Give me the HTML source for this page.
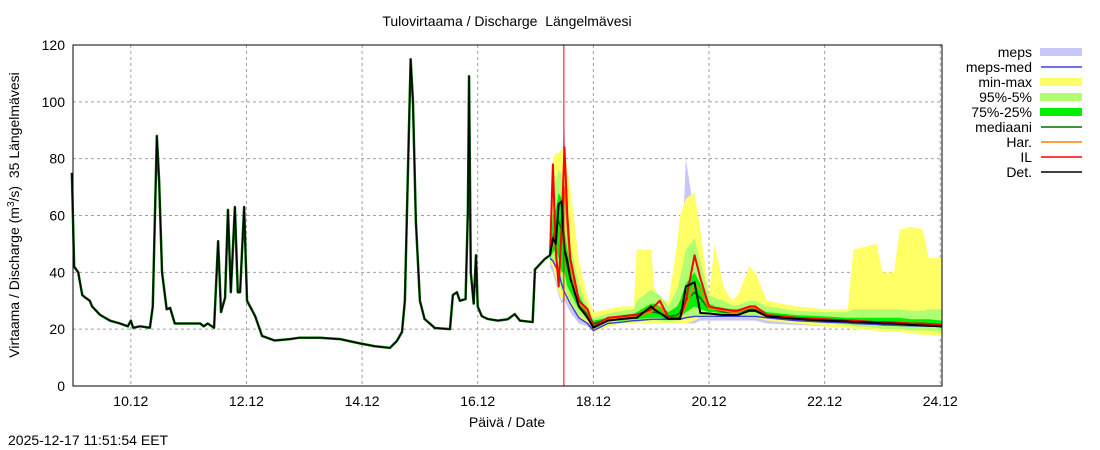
<!DOCTYPE html>
<html><head><meta charset="utf-8"><style>
body{margin:0;background:#fff;}
svg{display:block;font-family:"Liberation Sans",sans-serif;}
text{white-space:pre;}
</style></head><body>
<svg id="chart" width="1100" height="450" viewBox="0 0 1100 450">
<text x="507" y="26" font-size="14" text-anchor="middle" xml:space="preserve">Tulovirtaama / Discharge  Längelmävesi</text>
<text x="507" y="427" font-size="14" text-anchor="middle">Päivä / Date</text>
<text transform="translate(19,215) rotate(-90)" font-size="14" text-anchor="middle" xml:space="preserve">Virtaama / Discharge (m<tspan dy="-5" font-size="10">3</tspan><tspan dy="5">/s)  35 Längelmävesi</tspan></text>
<text x="8" y="445" font-size="14">2025-12-17 11:51:54 EET</text>
<g id="grid"></g><g id="bands"></g><g id="lines"></g><g id="axes"></g><g id="legend"></g>
</svg>
<script>
const yTicks=[0,20,40,60,80,100,120];
const xTickDays=[10,12,14,16,18,20,22,24];
const xTickLabels=["10.12","12.12","14.12","16.12","18.12","20.12","22.12","24.12"];
const obsDays=[8.98,9.02,9.09,9.16,9.22,9.29,9.33,9.47,9.64,9.81,9.95,10.0,10.04,10.16,10.33,10.38,10.45,10.49,10.54,10.62,10.68,10.76,10.94,11.2,11.26,11.33,11.44,11.51,11.56,11.63,11.68,11.73,11.8,11.85,11.89,11.96,12.01,12.15,12.27,12.49,12.75,12.92,13.27,13.62,13.96,14.22,14.48,14.6,14.69,14.74,14.81,14.84,14.88,14.93,15.0,15.08,15.26,15.52,15.57,15.64,15.69,15.79,15.83,15.85,15.88,15.93,15.97,16.0,16.07,16.17,16.35,16.52,16.64,16.73,16.95,16.99,17.16,17.25];
const obsVals=[75,42,40,32,31,30,28,25,23,22,21,23,20.5,21,20.5,28,88,72,40,27,27.5,22,22,22,21,22,20.5,51,26,31,62,33,63,33,33,63,30,24.6,17.6,16,16.5,17,17,16.5,15,14,13.4,15.8,19,30,90,115,100,58,30,23.6,20.4,20,32,33,30,30.6,62,109,40,29,46,28,24.6,23.6,23,23.5,25.3,23,22.5,41,44.7,46];
const fcDays=[17.25,17.3,17.35,17.4,17.45,17.5,17.55,17.6,17.75,17.9,18.0,18.25,18.5,18.7,18.75,19.0,19.05,19.15,19.3,19.45,19.5,19.6,19.75,19.85,20.0,20.1,20.25,20.4,20.5,20.7,20.8,21.0,21.5,22.0,22.4,22.5,22.9,23.0,23.2,23.3,23.5,23.7,23.8,24.03];
const fcMin=[43,42,38,33,30,32,30,28,24,22,19,21,22,22,22,22,22,22,22,22,22,22,23,24,24,24,24,24,24,24,24,23,22,21,20.5,20,19.5,19,19,19,18.5,18,18,17.5];
const fcP5=[44,44,42,38,33,35,32,30,25,23,20,22,22.5,23,23,23,23,23,22.5,23,23,24,25,25,25,25,25,24.5,24.5,25,25,24,23,22,21.5,21,20.5,20,20,20,19.5,19.5,19.5,19];
const fcP25=[45,47,48,45,40,40,35,33,27,24,21,23,23,23.5,23.5,24,24,24,23.5,24,24,26,28,27,26,26,25.5,25,25,26,26,24.5,23.5,23,22.5,22,21.5,21.5,21.5,21.5,21,21,21,20.5];
const fcMed=[46,52,55,58,55,48,42,38,29,25,22,23.5,24,24.5,24.5,26,26,25.5,24.5,25,26,30,33,31,27,27,26,26,26,27,27,25,24,23.5,23,23,22.5,22.5,22.3,22.2,22,22,21.8,21.5];
const fcP75=[47,60,62,68,66,55,48,43,32,26,23,24,25,25.5,26,29,29,28,26,28,30,36,40,36,29,28,27.5,27,27,28,28,26,25,24.5,24,24,24,24,24,24,23.5,23.5,23.5,23];
const fcP95=[50,70,72,76,75,66,58,50,36,28,24,25.5,26.5,27,30,34,33,32,28,34,38,48,52,44,32,31,30,28.5,28.5,30,30,28,26.5,26,26,27,27,27,27,27,26.5,26.5,27,27];
const fcMax=[55,80,82,82,83,84,76,70,44,31,26,27,28,28,48,48,35,30,30,50,60,66,68,55,32,50,35,30,32,42,40,30,28,27,27,48,50,40,40,55,56,55,45,45];
const mepsMin=[42,40,36,32,29,30,28,26,22,21,19,21,22,22,22,22,22,22,22,22,22,22,22,23,23,23,23,23,23,23,23,22,21.5,21,20.7,20.5,20,20,20,19.8,19.5,19.3,19.2,19];
const mepsMax=[50,62,70,75,80,92,65,50,34,27,23,25,26,27,27,30,29,28,26,30,32,80,60,40,30,29,28,27,27,28,28,26,25,24.5,24,24,23.5,23.5,23.3,23.2,23,22.8,22.7,22.5];
const mepsMed=[45,44,42,40,36,33,31,29,24,22,19.5,22,22.5,23,23,23.5,23.5,23.5,23.5,23.5,23.5,24,24.5,24.5,24.5,24.5,24.5,24.5,24.5,24.5,24.5,24,23,22.5,22.2,22,21.7,21.5,21.4,21.3,21.2,21.1,21.1,21];
const harVals=[46,75,45,40,50,70,55,42,29,26,21,23.5,24,24.5,24.5,26,27,28,24,24,24,28,36,34,27,27,26.5,26,26,27.5,27.5,25,24,23.5,23,23,22.5,22.5,22.3,22.2,22,22,21.8,21.5];
const ilVals=[46,78,48,35,55,84,60,45,30,27,21,24,24.5,25,25,27,28,30,24,24,24,30,46,38,28,27.5,27,26.5,26.5,28,28,25,24,23.5,23,23,22.5,22.5,22.3,22.2,22,22,21.8,21.5];
const detVals=[46,52,50,64,65,48,44,38,28,24,20.5,23,23.6,24,24,28,27,25.7,23.6,23.6,23.6,35,36.5,25.7,25.5,25.3,25,25,25,26.5,26.5,24.5,23.6,23,22.7,22.5,22.2,22,22,21.8,21.5,21.3,21.2,21];
const nowDay=17.49;

const X0=73,X1=942,Y0=386,Y1=45,DMIN=9.0,DMAX=24.03;
const xs=d=>X0+(d-DMIN)/(DMAX-DMIN)*(X1-X0);
const ys=v=>Y0-v/120*(Y0-Y1);
const NS="http://www.w3.org/2000/svg";
function mk(tag,attrs,parent){const e=document.createElementNS(NS,tag);for(const k in attrs)e.setAttribute(k,attrs[k]);document.getElementById(parent).appendChild(e);return e;}
const grid='grid';
yTicks.forEach(v=>{
 if(v>0&&v<120){const g=mk('line',{x1:X0,x2:X1,y1:ys(v),y2:ys(v),stroke:'#a0a0a0','stroke-dasharray':'3,3'},grid);
 
 }
 const t=mk('text',{x:X0-8,y:ys(v)+5,'font-size':14,'text-anchor':'end'},'axes');t.textContent=v;
 
 
});
xTickDays.forEach((d,i)=>{
 const g=mk('line',{x1:xs(d),x2:xs(d),y1:Y1,y2:Y0,stroke:'#a0a0a0','stroke-dasharray':'3,3'},grid);
 
 
 const t=mk('text',{x:xs(d),y:Y0+20,'font-size':14,'text-anchor':'middle'},'axes');t.textContent=xTickLabels[i];
 
 
});
const frame=mk('rect',{x:X0,y:Y1,width:X1-X0,height:Y0-Y1,fill:'none',stroke:'#000'},'axes');


function band(lo,hi,color,name){
 let p=fcDays.map((d,i)=>xs(d)+','+ys(hi[i])).join(' ')+' '+fcDays.map((d,i)=>xs(d)+','+ys(lo[i])).reverse().join(' ');
 const e=mk('polygon',{points:p,fill:color},'bands');
 
 
}
band(mepsMin,mepsMax,'#c8c8f8','meps-band');
band(fcMin,fcMax,'#ffff66','min-max-band');
band(fcP5,fcP95,'#b0ff70','p95-p5-band');
band(fcP25,fcP75,'#00ee00','p75-p25-band');
function line(days,vals,color,w,name){
 const e=mk('polyline',{points:days.map((d,i)=>xs(d)+','+ys(vals[i])).join(' '),fill:'none',stroke:color,'stroke-width':w,'stroke-linejoin':'round'},'lines');
 
 
}
line(fcDays,mepsMed,'#4040e0',1.5,'meps-med-line');
line(fcDays,fcMed,'#007000',1.5,'median-line');
line(fcDays,harVals,'#ff8000',1.5,'har-line');
line(fcDays,ilVals,'#ff0000',2,'il-line');
line(fcDays,detVals,'#000000',2,'det-line');
line(obsDays,obsVals,'#006000',2.5,'observed-green-line');
line(obsDays,obsVals,'#000000',1.2,'observed-line');
const nl=mk('line',{x1:xs(nowDay),x2:xs(nowDay),y1:Y1,y2:Y0,stroke:'#ff0000','stroke-width':1},'lines');


const leg=[['meps','band','#c8c8f8'],['meps-med','line','#4040e0'],['min-max','band','#ffff66'],['95%-5%','band','#b0ff70'],['75%-25%','band','#00ee00'],['mediaani','line','#007000'],['Har.','line','#ff8000'],['IL','line','#ff0000'],['Det.','line','#000000']];
leg.forEach((l,i)=>{
 const y=52+i*15;
 const t=mk('text',{x:1032,y:y+5,'font-size':14,'text-anchor':'end'},'legend');t.textContent=l[0];
 
 
 const s=l[1]==='band'?mk('rect',{x:1040,y:y-4,width:42,height:8,fill:l[2]},'legend'):mk('line',{x1:1041,x2:1082,y1:y,y2:y,stroke:l[2],'stroke-width':1.5},'legend');
 
 
});
</script>
</body></html>
